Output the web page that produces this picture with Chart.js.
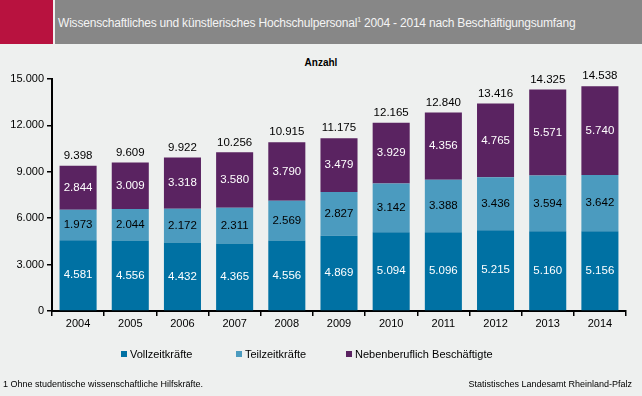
<!DOCTYPE html>
<html lang="de">
<head>
    <meta charset="UTF-8">
    <title>Hochschulpersonal 2004 - 2014</title>
    <script src="https://cdn.jsdelivr.net/npm/chart.js"></script>
    <style>
        html, body {
            margin: 0;
            padding: 0;
            width: 642px;
            height: 396px;
            overflow: hidden;
            background: #eef0ef;
            font-family: "Liberation Sans", Arial, sans-serif;
        }
        .wrap { position: relative; width: 642px; height: 396px; }
        .red { position: absolute; left: 0; top: 0; width: 53px; height: 44px; background: #b8123f; }
        .head {
            position: absolute; left: 55px; top: 0; width: 587px; height: 44px;
            background: #878787; color: #f4f4f4; font-size: 12px;
            line-height: 46px; padding-left: 3px; box-sizing: border-box;
            letter-spacing: -0.2px;
        }
        .head sup { font-size: 7px; vertical-align: 5px; line-height: 0; }
        .unit { position: absolute; left: 0; width: 642px; top: 57px; text-align: center; font-size: 10px; font-weight: bold; }
        .legend { position: absolute; top: 348px; font-size: 11px; color: #000; }
        .legend span.box { display: inline-block; width: 6px; height: 6px; margin-right: 3px; vertical-align: 1px; }
        .foot { position: absolute; top: 379px; font-size: 9px; color: #000; }
        canvas { position: absolute; left: 0; top: 0; }
    </style>
</head>
<body>
<div class="wrap">
    <div class="red"></div>
    <div class="head">Wissenschaftliches und künstlerisches Hochschulpersonal<sup>1</sup> 2004 - 2014 nach Beschäftigungsumfang</div>
    <div class="unit">Anzahl</div>
    <canvas id="chart" width="642" height="396"></canvas>
    <div class="legend" style="left:121px"><span class="box" style="background:#0071a3"></span>Vollzeitkräfte</div>
    <div class="legend" style="left:236px"><span class="box" style="background:#4b9bbf"></span>Teilzeitkräfte</div>
    <div class="legend" style="left:346px"><span class="box" style="background:#5a2361"></span>Nebenberuflich Beschäftigte</div>
    <div class="foot" style="left:3px">1 Ohne studentische wissenschaftliche Hilfskräfte.</div>
    <div class="foot" style="right:10px">Statistisches Landesamt Rheinland-Pfalz</div>
</div>

<script>
    const years = ['2004', '2005', '2006', '2007', '2008', '2009', '2010', '2011', '2012', '2013', '2014'];
    const vollzeit = [4581, 4556, 4432, 4365, 4556, 4869, 5094, 5096, 5215, 5160, 5156];
    const teilzeit = [1973, 2044, 2172, 2311, 2569, 2827, 3142, 3388, 3436, 3594, 3642];
    const nebenberuflich = [2844, 3009, 3318, 3580, 3790, 3479, 3929, 4356, 4765, 5571, 5740];
    const totals = [9398, 9609, 9922, 10256, 10915, 11175, 12165, 12840, 13416, 14325, 14538];
    const yTicks = [0, 3000, 6000, 9000, 12000, 15000];

    function fmt(n) {
        return String(n).replace(/\B(?=(\d{3})+(?!\d))/g, '.');
    }

    // draws the numbers inside the segments and the sums above the bars
    const valueLabels = {
        id: 'valueLabels',
        afterDatasetsDraw(chart) {
            const ctx = chart.ctx;
            ctx.save();
            ctx.font = '11.5px "Liberation Sans", Arial, sans-serif';
            ctx.textAlign = 'center';
            ctx.textBaseline = 'middle';
            chart.data.datasets.forEach((ds, i) => {
                const meta = chart.getDatasetMeta(i);
                meta.data.forEach((bar, j) => {
                    ctx.fillStyle = ds.labelColor;
                    ctx.fillText(fmt(ds.data[j]), bar.x, (bar.y + bar.base) / 2);
                    if (i === chart.data.datasets.length - 1) {
                        ctx.fillStyle = '#000';
                        ctx.fillText(fmt(totals[j]), bar.x, bar.y - 10);
                    }
                });
            });
            ctx.restore();
        }
    };

    new Chart(document.getElementById('chart'), {
        type: 'bar',
        data: {
            labels: years,
            datasets: [
                { label: 'Vollzeitkräfte', data: vollzeit, backgroundColor: '#0071a3', labelColor: '#fff' },
                { label: 'Teilzeitkräfte', data: teilzeit, backgroundColor: '#4b9bbf', labelColor: '#000' },
                { label: 'Nebenberuflich Beschäftigte', data: nebenberuflich, backgroundColor: '#5a2361', labelColor: '#fff' }
            ]
        },
        options: {
            responsive: false,
            animation: false,
            layout: { padding: { left: 0, right: 16, top: 79, bottom: 65 } },
            datasets: { bar: { barPercentage: 0.71, categoryPercentage: 1.0 } },
            plugins: {
                legend: { display: false },
                tooltip: { enabled: false }
            },
            scales: {
                x: {
                    stacked: true,
                    afterFit: s => { s.height = 20; },
                    border: { color: '#000', width: 2 },
                    grid: { drawOnChartArea: false, color: '#000', tickLength: 5, lineWidth: 1.5 },
                    ticks: { color: '#000', padding: 1, font: { size: 11, family: '"Liberation Sans", Arial, sans-serif' } }
                },
                y: {
                    stacked: true,
                    min: 0,
                    max: 15000,
                    afterFit: s => { s.width = 52; },
                    afterBuildTicks: s => { s.ticks = yTicks.map(v => ({ value: v })); },
                    border: { color: '#000', width: 2 },
                    grid: { drawOnChartArea: false, color: '#000', tickLength: 5, lineWidth: 1.5 },
                    ticks: {
                        color: '#000',
                        padding: 3,
                        font: { size: 11, family: '"Liberation Sans", Arial, sans-serif' },
                        callback: v => fmt(v)
                    }
                }
            }
        },
        plugins: [valueLabels]
    });
</script>
</body>
</html>
